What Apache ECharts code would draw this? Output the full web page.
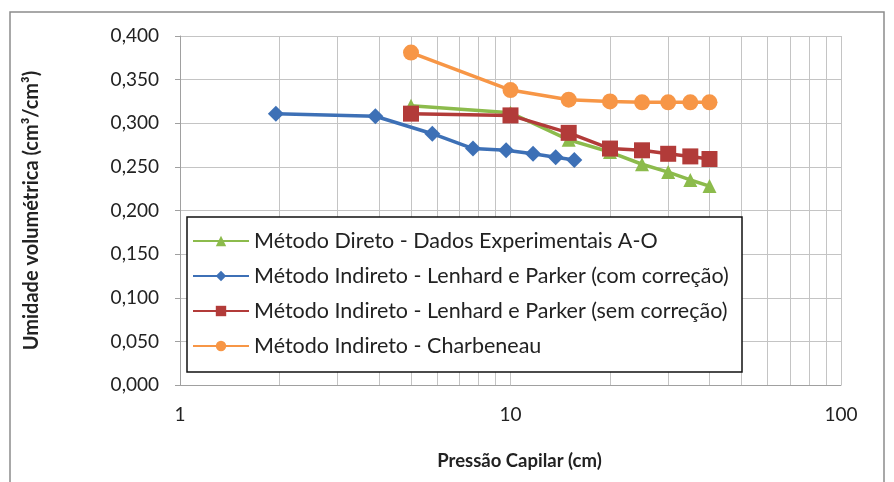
<!DOCTYPE html>
<html><head><meta charset="utf-8">
<script src="https://cdn.jsdelivr.net/npm/echarts@6/dist/echarts.min.js"></script>
<style>html,body{margin:0;padding:0;background:#fff}#c{width:894px;height:482px}</style>
</head><body><div id="c"></div>
<script>
const seriesNames = [
  'Método Direto - Dados Experimentais A-O',
  'Método Indireto - Lenhard e Parker (com correção)',
  'Método Indireto - Lenhard e Parker (sem correção)',
  'Método Indireto - Charbeneau'
];
const xGreen = [5, 10, 15, 20, 25, 30, 35, 40];
const yGreen = [0.320, 0.312, 0.281, 0.267, 0.253, 0.244, 0.235, 0.228];
const xBlue = [1.95, 3.9, 5.8, 7.7, 9.7, 11.7, 13.7, 15.6];
const yBlue = [0.311, 0.308, 0.288, 0.271, 0.269, 0.265, 0.261, 0.258];
const xRed = [5, 10, 15, 20, 25, 30, 35, 40];
const yRed = [0.311, 0.309, 0.289, 0.271, 0.269, 0.265, 0.262, 0.259];
const xOrange = [5, 10, 15, 20, 25, 30, 35, 40];
const yOrange = [0.381, 0.338, 0.327, 0.325, 0.324, 0.324, 0.324, 0.324];
const minorGrid = [2,3,4,5,6,7,8,9,20,30,40,50,60,70,80,90];

const FONT = 'Lato';
const zip = (xs, ys) => xs.map((x, i) => [x, ys[i]]);
const colors = ['#8cbb4c', '#3d70b6', '#b23b39', '#f79646'];
const symbols = ['triangle', 'diamond', 'rect', 'circle'];
const sizes = [14, 16, 16, 16];
const datas = [zip(xGreen, yGreen), zip(xBlue, yBlue), zip(xRed, yRed), zip(xOrange, yOrange)];

const series = datas.map((d, i) => ({
  name: seriesNames[i], type: 'line', data: d,
  symbol: symbols[i], symbolSize: sizes[i], showAllSymbol: true,
  itemStyle: {color: colors[i]},
  lineStyle: {color: colors[i], width: 3.5},
  z: 2
}));
series.unshift({
  type: 'line', data: [], silent: true, z: 1,
  markLine: {
    silent: true, symbol: 'none', animation: false, z: 1,
    label: {show: false},
    lineStyle: {color: '#c4c4c4', width: 1, type: 'solid'},
    emphasis: {disabled: true},
    data: minorGrid.map(v => ({xAxis: v}))
  }
});

const chart = echarts.init(document.getElementById('c'));
chart.setOption({
  animation: false,
  textStyle: {fontFamily: FONT},
  grid: {left: 180, right: 53, top: 36, bottom: 97, outerBoundsMode: 'none', containLabel: false},
  xAxis: {
    type: 'log', logBase: 10, min: 1, max: 100,
    name: 'Pressão Capilar (cm)', nameLocation: 'middle', nameGap: 67,
    nameTextStyle: {fontFamily: FONT, fontSize: 18.5, fontWeight: 'bold', color: '#222', padding: [0, 0, 0, 18]},
    axisLine: {lineStyle: {color: '#a0a0a0', width: 1}},
    axisTick: {show: false},
    axisLabel: {fontFamily: FONT, fontSize: 19, color: '#222', margin: 20},
    splitLine: {show: true, lineStyle: {color: '#c4c4c4', width: 1}}
  },
  yAxis: {
    type: 'value', min: 0, max: 0.4, interval: 0.05,
    name: 'Umidade volumétrica (cm³/cm³)', nameLocation: 'middle', nameGap: 138,
    nameTextStyle: {fontFamily: FONT, fontSize: 20, fontWeight: 'bold', color: '#222'},
    axisLine: {show: true, lineStyle: {color: '#a0a0a0', width: 1}},
    axisTick: {show: true, length: 5, lineStyle: {color: '#a0a0a0'}},
    axisLabel: {fontFamily: FONT, fontSize: 19, color: '#222', margin: 21,
      formatter: v => v.toFixed(3).replace('.', ',')},
    splitLine: {show: true, lineStyle: {color: '#c4c4c4', width: 1}}
  },
  legend: {
    orient: 'vertical', left: 187, top: 217,
    data: seriesNames,
    itemWidth: 56, itemHeight: 13, itemGap: 13,
    padding: [13, 10, 10, 5],
    borderWidth: 0,
    z: 10,
    textStyle: {fontFamily: FONT, fontSize: 21.5, lineHeight: 21, color: '#222'}
  },
  graphic: [{
    type: 'rect', shape: {x: 10, y: 12, width: 874, height: 500},
    style: {fill: 'none', stroke: '#8c8c8c', lineWidth: 1.5}, silent: true, z: -1
  }, {
    type: 'rect', shape: {x: 187, y: 217, width: 555, height: 155},
    style: {fill: '#fff', stroke: '#111', lineWidth: 1.5}, silent: true, z: 5
  }],
  series: series
});
</script></body></html>
